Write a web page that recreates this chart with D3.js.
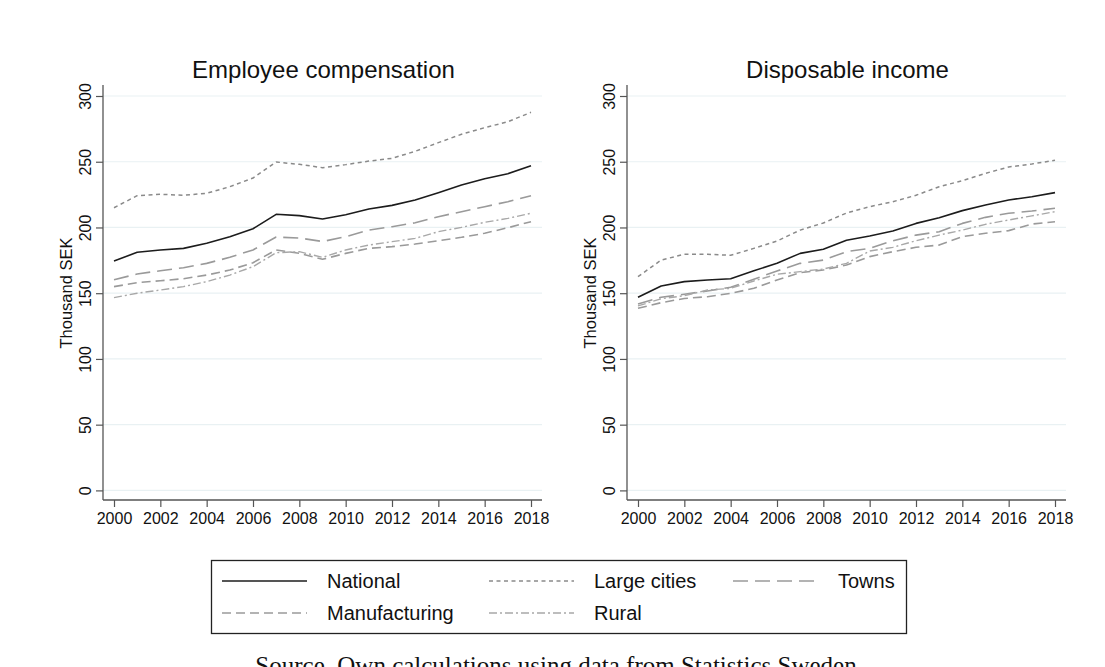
<!DOCTYPE html>
<html>
<head>
<meta charset="utf-8">
<script src="https://cdn.jsdelivr.net/npm/d3@7"></script>
<style>
  html, body { margin: 0; padding: 0; background: #fff; }
  svg { display: block; }
  text { font-family: "Liberation Sans", Arial, sans-serif; fill: #111; }
</style>
</head>
<body>
<svg id="chart" width="1105" height="667"></svg>
<script>
// Years on the horizontal axis
const years = d3.range(2000, 2019);
const xTicks = d3.range(2000, 2019, 2);
const yTicks = [0, 50, 100, 150, 200, 250, 300];

// Employee compensation, thousand SEK
const compNational = [174.5, 181.1, 182.9, 184.1, 188.0, 193.0, 199.0, 210.0, 209.0, 206.5, 209.7, 214.0, 216.8, 220.9, 226.4, 232.3, 237.1, 240.9, 247.0];
const compLargeCities = [215.0, 224.2, 225.2, 224.5, 226.0, 231.0, 237.6, 249.8, 248.0, 245.5, 247.8, 250.5, 252.6, 257.9, 264.5, 270.9, 275.9, 280.4, 287.6];
const compTowns = [160.3, 164.6, 167.1, 169.4, 172.7, 177.3, 182.9, 192.7, 192.0, 189.3, 193.0, 198.0, 200.6, 203.6, 208.2, 212.0, 215.8, 219.6, 224.2];
const compManufacturing = [155.0, 158.0, 159.5, 161.0, 163.8, 167.6, 173.2, 182.9, 180.3, 175.8, 180.3, 184.1, 185.4, 187.4, 189.9, 192.5, 195.6, 199.8, 204.4];
const compRural = [146.6, 150.0, 152.4, 155.0, 158.8, 163.8, 170.2, 180.8, 181.6, 177.3, 182.9, 186.6, 189.2, 191.7, 196.8, 200.1, 203.9, 206.9, 210.8];

// Disposable income, thousand SEK
const dispNational = [146.9, 155.5, 158.8, 160.0, 161.0, 167.1, 172.7, 180.3, 183.4, 190.3, 193.5, 197.3, 203.1, 207.4, 212.8, 217.1, 220.9, 223.4, 226.5];
const dispLargeCities = [162.6, 175.2, 179.6, 179.6, 178.8, 184.1, 189.7, 198.0, 203.4, 211.0, 215.8, 219.6, 224.5, 231.0, 235.6, 241.2, 246.0, 248.3, 251.1];
const dispTowns = [141.8, 146.9, 149.2, 151.7, 154.5, 160.6, 166.9, 172.7, 175.2, 181.6, 184.1, 189.9, 194.2, 196.8, 203.1, 207.7, 210.8, 212.5, 214.6];
const dispManufacturing = [138.5, 142.8, 146.0, 147.3, 149.9, 153.7, 160.0, 165.6, 167.7, 171.4, 177.8, 181.6, 184.9, 186.6, 193.0, 195.6, 197.6, 202.6, 204.4];
const dispRural = [140.3, 145.8, 148.1, 152.4, 153.7, 159.3, 164.4, 166.4, 168.4, 172.7, 182.1, 184.9, 189.9, 194.2, 198.0, 202.4, 205.7, 208.8, 212.0];

const seriesNames = ["National", "Large cities", "Towns", "Manufacturing", "Rural"];
const panelTitles = ["Employee compensation", "Disposable income"];
const yAxisTitle = "Thousand SEK";
const sourceNote = "Source. Own calculations using data from Statistics Sweden";

// Line appearance for each series
const styles = {
  "National":      { color: "#1c1c1c", width: 1.6, dash: null },
  "Large cities":  { color: "#8a8a8a", width: 1.5, dash: "4,3.5" },
  "Towns":         { color: "#9a9a9a", width: 1.6, dash: "15,7" },
  "Manufacturing": { color: "#9a9a9a", width: 1.6, dash: "9,5" },
  "Rural":         { color: "#a8a8a8", width: 1.4, dash: "8,3,2,3" }
};

const panels = [
  { title: panelTitles[0], axisX: 103, right: 542,
    data: [compNational, compLargeCities, compTowns, compManufacturing, compRural] },
  { title: panelTitles[1], axisX: 627, right: 1066,
    data: [dispNational, dispLargeCities, dispTowns, dispManufacturing, dispRural] }
];

const svg = d3.select("#chart");
svg.append("rect").attr("width", 1105).attr("height", 667).attr("fill", "#fff");

const axisTop = 85, axisBottom = 500;
const y = d3.scaleLinear().domain([0, 300]).range([490.4, 96]);

panels.forEach(p => {
  const x = d3.scaleLinear().domain([2000, 2018]).range([p.axisX + 11, p.right - 11]);
  const g = svg.append("g");

  // horizontal gridlines
  g.selectAll("line.grid").data(yTicks).join("line")
    .attr("x1", p.axisX).attr("x2", p.right)
    .attr("y1", d => y(d)).attr("y2", d => y(d))
    .attr("stroke", "#e9f1f3").attr("stroke-width", 1.2);

  // y axis
  const yAxis = d3.axisLeft(y).tickValues(yTicks).tickSize(7).tickPadding(5).tickSizeOuter(0);
  const ya = g.append("g").attr("transform", `translate(${p.axisX},0)`).call(yAxis);
  ya.select(".domain").remove();
  ya.append("line").attr("x1", 0).attr("x2", 0).attr("y1", axisTop).attr("y2", axisBottom)
    .attr("stroke", "#555").attr("stroke-width", 1.3);
  ya.selectAll(".tick line").attr("stroke", "#555").attr("stroke-width", 1.2);
  ya.selectAll(".tick text")
    .attr("x", null).attr("dy", null)
    .attr("transform", "translate(-12,0) rotate(-90)")
    .attr("text-anchor", "middle")
    .attr("font-size", 16)
    .attr("font-family", "Liberation Sans, Arial, sans-serif")
    .attr("fill", "#111");

  // x axis
  const xAxis = d3.axisBottom(x).tickValues(xTicks).tickFormat(d3.format("d"))
    .tickSize(7).tickPadding(6).tickSizeOuter(0);
  const xa = g.append("g").attr("transform", `translate(0,${axisBottom})`).call(xAxis);
  xa.select(".domain").remove();
  xa.append("line").attr("x1", p.axisX).attr("x2", p.right).attr("y1", 0).attr("y2", 0)
    .attr("stroke", "#555").attr("stroke-width", 1.3);
  xa.selectAll(".tick line").attr("stroke", "#555").attr("stroke-width", 1.2);
  xa.selectAll(".tick text")
    .attr("font-size", 16)
    .attr("font-family", "Liberation Sans, Arial, sans-serif")
    .attr("fill", "#111");

  // y axis title
  g.append("text")
    .attr("transform", `translate(${p.axisX - 31},293) rotate(-90)`)
    .attr("text-anchor", "middle")
    .attr("font-size", 16.5)
    .text(yAxisTitle);

  // panel title
  g.append("text")
    .attr("x", (p.axisX + p.right) / 2 + 1).attr("y", 78)
    .attr("text-anchor", "middle")
    .attr("font-size", 24)
    .text(p.title);

  // series lines
  const line = d3.line().x((d, i) => x(years[i])).y(d => y(d));
  p.data.forEach((vals, i) => {
    const s = styles[seriesNames[i]];
    g.append("path").datum(vals)
      .attr("d", line)
      .attr("fill", "none")
      .attr("stroke", s.color)
      .attr("stroke-width", s.width)
      .attr("stroke-dasharray", s.dash)
      .attr("stroke-linejoin", "round");
  });
});

// legend
const legend = svg.append("g");
legend.append("rect")
  .attr("x", 211.5).attr("y", 560.5).attr("width", 695).attr("height", 73)
  .attr("fill", "#fff").attr("stroke", "#222").attr("stroke-width", 1.3);

const legendPos = [
  { sx: 222, tx: 327, y: 581 },
  { sx: 489, tx: 594, y: 581 },
  { sx: 733, tx: 838, y: 581 },
  { sx: 222, tx: 327, y: 613 },
  { sx: 489, tx: 594, y: 613 }
];
seriesNames.forEach((name, i) => {
  const s = styles[name], pos = legendPos[i];
  legend.append("line")
    .attr("x1", pos.sx).attr("x2", pos.sx + 85)
    .attr("y1", pos.y).attr("y2", pos.y)
    .attr("stroke", s.color).attr("stroke-width", s.width)
    .attr("stroke-dasharray", s.dash);
  legend.append("text")
    .attr("x", pos.tx).attr("y", pos.y + 7)
    .attr("font-size", 20)
    .text(name);
});

// source note along the bottom edge
svg.append("text")
  .attr("x", 556).attr("y", 674)
  .attr("text-anchor", "middle")
  .attr("font-size", 25)
  .style("font-family", "'Liberation Serif', 'DejaVu Serif', serif")
  .text(sourceNote);
</script>
</body>
</html>
